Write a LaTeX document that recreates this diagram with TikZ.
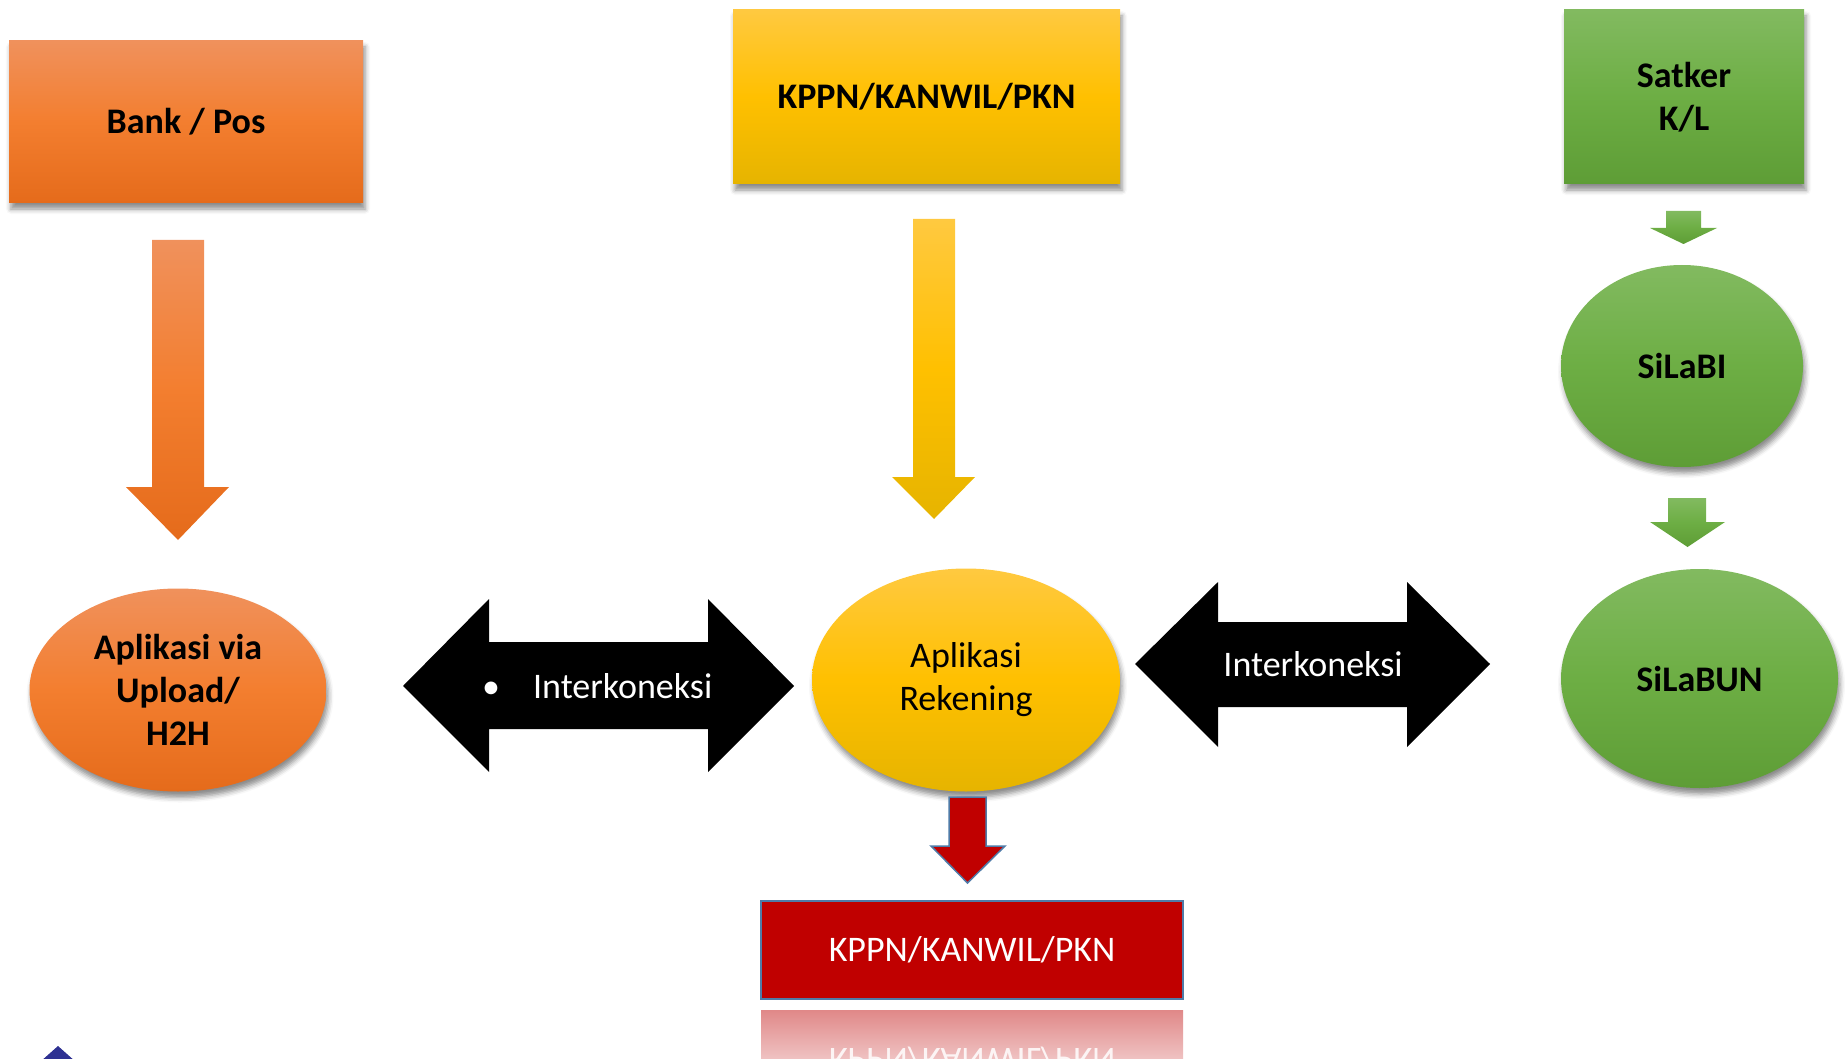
\documentclass[tikz,border=0pt]{standalone}
\usepackage{fontspec}
\setmainfont{Carlito}
\usetikzlibrary{shapes.geometric,shadows.blur}
\definecolor{orA}{HTML}{F0915C}
\definecolor{orB}{HTML}{F37E2F}
\definecolor{orC}{HTML}{E56B1B}
\definecolor{yeA}{HTML}{FFC940}
\definecolor{yeB}{HTML}{FFC000}
\definecolor{yeC}{HTML}{E6B400}
\definecolor{grA}{HTML}{82BA60}
\definecolor{grB}{HTML}{6DAE44}
\definecolor{grC}{HTML}{5E9D36}
\definecolor{redfill}{HTML}{C00000}
\definecolor{redline}{HTML}{4F7BA8}
\definecolor{reflA}{HTML}{E08888}
\definecolor{navy}{HTML}{2E3192}
\begin{document}
\begin{tikzpicture}[x=1pt,y=-1pt,
  orshade/.style={top color=orA, bottom color=orC, middle color=orB},
  yeshade/.style={top color=yeA, bottom color=yeC, middle color=yeB},
  grshade/.style={top color=grA, bottom color=grC, middle color=grB},
  sh/.style={blur shadow={shadow xshift=2pt, shadow yshift=-6pt, shadow blur radius=5pt, shadow opacity=45}},
  rbox/.style={rectangle, inner sep=0pt, align=center, sh, font=\bfseries\fontsize{36}{43}\selectfont},
  ell/.style={ellipse, inner sep=0pt, align=center, sh, font=\bfseries\fontsize{36}{43}\selectfont},
  redbox/.style={rectangle, inner sep=0pt, fill=redfill, draw=redline, line width=2pt, text=white, font=\fontsize{36}{42}\selectfont},
  blockarrow/.style={fill=black},
  arrowtext/.style={text=white, font=\fontsize{36}{40}\selectfont, inner sep=0pt}
]
\useasboundingbox (0,0) rectangle (1845,1059);

% top boxes
\node[rbox, orshade, minimum width=354pt, minimum height=162pt] (bank) at (186,122) {Bank / Pos};
\node[rbox, yeshade, minimum width=387pt, minimum height=174pt] (kppn) at (926.5,97) {KPPN/KANWIL/PKN};
\node[rbox, grshade, minimum width=240pt, minimum height=174pt] (satker) at (1684,97) {Satker\\K/L};

% ellipses
\node[ell, orshade, minimum width=297pt, minimum height=203pt] (upload) at (178,690) {Aplikasi via\\Upload/\\H2H};
\node[ell, yeshade, minimum width=308pt, minimum height=223pt, font=\fontsize{36}{43}\selectfont] (rek) at (966,680) {Aplikasi\\Rekening};
\node[ell, grshade, minimum width=242pt, minimum height=202pt] (silabi) at (1682,366) {SiLaBI};
\node[ell, grshade, minimum width=277pt, minimum height=219pt] (silabun) at (1699.5,678.5) {SiLaBUN};

% bottom red box
\node[redbox, minimum width=422pt, minimum height=98pt] (kppnb) at (972,950) {KPPN/KANWIL/PKN};

% down arrows
\shade[orshade] (152,240) -- (204,240) -- (204,487) -- (229,487) -- (178,540) -- (126,487) -- (152,487) -- cycle;
\shade[yeshade] (913,219) -- (955,219) -- (955,477) -- (975,477) -- (934,519) -- (892,477) -- (913,477) -- cycle;
\shade[grshade] (1666,211) -- (1701,211) -- (1701,228) -- (1717,228) -- (1683.5,244) -- (1650,228) -- (1666,228) -- cycle;
\shade[grshade] (1668,498) -- (1706,498) -- (1706,522) -- (1725,522) -- (1687.5,547) -- (1650,522) -- (1668,522) -- cycle;
\filldraw[fill=redfill, draw=redline, line width=1.5pt, line join=miter]
  (949,797) -- (986,797) -- (986,846) -- (1005,846) -- (967.5,883) -- (931,846) -- (949,846) -- cycle;

% double arrows
\fill[blockarrow] (403,686) -- (489,599) -- (489,642) -- (708,642) -- (708,599) -- (794,686) -- (708,772) -- (708,729) -- (489,729) -- (489,772) -- cycle;
\node[arrowtext, anchor=west] (ik1) at (482,686) {\textbullet\hspace{33pt}Interkoneksi};
\fill[blockarrow] (1135,664) -- (1218,582) -- (1218,622) -- (1407,622) -- (1407,582) -- (1490,664) -- (1407,747) -- (1407,707) -- (1218,707) -- (1218,747) -- cycle;
\node[arrowtext] (ik2) at (1313,664) {Interkoneksi};

% reflection of the red box
\begin{scope}
\clip (0,0) rectangle (1845,1059);
\shade[top color=reflA, bottom color=white] (761,1010) rectangle (1183,1110);
\node[transform shape, yscale=-1, text=white, opacity=0.85, inner sep=0pt, font=\fontsize{36}{42}\selectfont] (refl) at (972,1060) {KPPN/KANWIL/PKN};
\fill[navy] (58,1046) -- (76,1062) -- (40,1062) -- cycle;
\end{scope}
\end{tikzpicture}
\end{document}
